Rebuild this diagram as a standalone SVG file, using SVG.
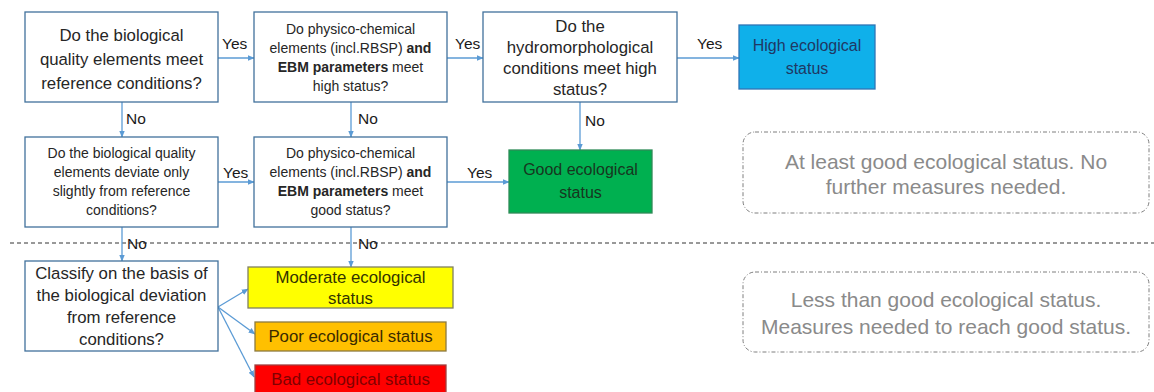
<svg xmlns="http://www.w3.org/2000/svg" width="1154" height="392" viewBox="0 0 1154 392">
<defs>
<marker id="ah" viewBox="0 0 10 10" refX="9" refY="5" markerWidth="7" markerHeight="7" orient="auto" markerUnits="userSpaceOnUse">
<path d="M0,1 L10,5 L0,9 z" fill="#5b9bd5"/>
</marker>
<style>
text{font-family:"Liberation Sans",Arial,sans-serif;fill:#262626;text-anchor:middle}
.q{fill:#fff;stroke:#41719c;stroke-width:1.3}
.t17{font-size:16.8px}
.t16{font-size:16px}
.t14{font-size:14px}
.lbl{font-size:15.5px;text-anchor:start;fill:#1a1a1a}
.c{stroke:#5b9bd5;stroke-width:1.3;fill:none;marker-end:url(#ah)}
.note{fill:none;stroke:#7f7f7f;stroke-width:1;stroke-dasharray:4 2 1 2}
.nt{font-size:21px;fill:#8a8a8a}
</style>
</defs>
<rect width="1154" height="392" fill="#fff"/>
<line x1="10" y1="243" x2="1154" y2="243" stroke="#333" stroke-width="1" stroke-dasharray="4 3"/>
<g id="connectors">
<line class="c" x1="218" y1="58" x2="254" y2="58"/>
<line class="c" x1="447" y1="58" x2="483" y2="58"/>
<line class="c" x1="677" y1="58" x2="739" y2="58"/>
<line class="c" x1="122" y1="102" x2="122" y2="137"/>
<line class="c" x1="351" y1="102" x2="351" y2="137"/>
<line class="c" x1="580" y1="102" x2="580" y2="150"/>
<line class="c" x1="218" y1="182" x2="254" y2="182"/>
<line class="c" x1="447" y1="182" x2="509" y2="182"/>
<line class="c" x1="122" y1="227" x2="122" y2="261"/>
<line class="c" x1="351" y1="227" x2="351" y2="267"/>
<line class="c" x1="218" y1="307" x2="248" y2="289"/>
<line class="c" x1="218" y1="307" x2="255" y2="334"/>
<line class="c" x1="218" y1="307" x2="254" y2="377"/>
<text class="lbl" x="222" y="48.5">Yes</text>
<text class="lbl" x="455" y="48.5">Yes</text>
<text class="lbl" x="697" y="48.5">Yes</text>
<text class="lbl" x="126" y="123.5">No</text>
<text class="lbl" x="358" y="123.5">No</text>
<text class="lbl" x="585" y="125.5">No</text>
<text class="lbl" x="223" y="177.5">Yes</text>
<text class="lbl" x="467" y="177.5">Yes</text>
<text class="lbl" x="127" y="248.5">No</text>
<text class="lbl" x="358" y="248.5">No</text>
</g>
<g id="q1">
<rect class="q" x="25" y="12" width="193" height="90"/>
<text class="t17" x="121.5" y="41">Do the biological</text>
<text class="t17" x="121.5" y="65">quality elements meet</text>
<text class="t17" x="121.5" y="89">reference conditions?</text>
</g>
<g id="q2">
<rect class="q" x="254" y="12" width="193" height="90"/>
<text class="t14" x="350.5" y="33.5">Do physico-chemical</text>
<text class="t14" x="350.5" y="52.5">elements (incl.RBSP) <tspan font-weight="bold">and</tspan></text>
<text class="t14" x="350.5" y="71.5"><tspan font-weight="bold">EBM parameters</tspan> meet</text>
<text class="t14" x="350.5" y="90.5">high status?</text>
</g>
<g id="q3">
<rect class="q" x="483" y="12" width="194" height="90"/>
<text class="t17" x="580" y="31.5">Do the</text>
<text class="t17" x="580" y="52.5">hydromorphological</text>
<text class="t17" x="580" y="73.5">conditions meet high</text>
<text class="t17" x="580" y="94.5">status?</text>
</g>
<g id="high">
<rect x="739" y="25" width="136" height="64" fill="#0fb0ea" stroke="#2e75b6" stroke-width="1.3"/>
<text class="t16" x="807" y="51" style="fill:#1f3864">High ecological</text>
<text class="t16" x="807" y="74" style="fill:#1f3864">status</text>
</g>
<g id="q4">
<rect class="q" x="25" y="137" width="193" height="90"/>
<text class="t14" x="121.5" y="158">Do the biological quality</text>
<text class="t14" x="121.5" y="177">elements deviate only</text>
<text class="t14" x="121.5" y="196">slightly from reference</text>
<text class="t14" x="121.5" y="215">conditions?</text>
</g>
<g id="q5">
<rect class="q" x="254" y="137" width="193" height="90"/>
<text class="t14" x="350.5" y="158">Do physico-chemical</text>
<text class="t14" x="350.5" y="177">elements (incl.RBSP) <tspan font-weight="bold">and</tspan></text>
<text class="t14" x="350.5" y="196"><tspan font-weight="bold">EBM parameters</tspan> meet</text>
<text class="t14" x="350.5" y="215">good status?</text>
</g>
<g id="good">
<rect x="509" y="150" width="143" height="63" fill="#00b050" stroke="#2e8b57" stroke-width="1.3"/>
<text class="t16" x="580.5" y="175" style="fill:#17361f">Good ecological</text>
<text class="t16" x="580.5" y="198" style="fill:#17361f">status</text>
</g>
<g id="note1">
<rect class="note" x="743" y="132" width="406" height="81" rx="12"/>
<text class="nt" x="946" y="169">At least good ecological status. No</text>
<text class="nt" x="946" y="194">further measures needed.</text>
</g>
<g id="q6">
<rect class="q" x="25" y="261" width="193" height="90"/>
<text class="t17" x="121.5" y="279">Classify on the basis of</text>
<text class="t17" x="121.5" y="301">the biological deviation</text>
<text class="t17" x="121.5" y="323">from reference</text>
<text class="t17" x="121.5" y="345">conditions?</text>
</g>
<g id="moderate">
<rect x="248" y="267" width="205" height="41" fill="#ffff00" stroke="#808060" stroke-width="1.3"/>
<text class="t17" x="350.5" y="283" style="fill:#333300">Moderate ecological</text>
<text class="t17" x="350.5" y="304" style="fill:#333300">status</text>
</g>
<g id="poor">
<rect x="255" y="322" width="191" height="29" fill="#ffc000" stroke="#8c7a40" stroke-width="1.3"/>
<text class="t17" x="350.5" y="342" style="fill:#3a2a00">Poor ecological status</text>
</g>
<g id="bad">
<rect x="255" y="365" width="191" height="30" fill="#ff0000" stroke="#a04040" stroke-width="1.3"/>
<text class="t17" x="350.5" y="385" style="fill:#800000">Bad ecological status</text>
</g>
<g id="note2">
<rect class="note" x="743" y="272" width="406" height="80" rx="12"/>
<text class="nt" x="946" y="307">Less than good ecological status.</text>
<text class="nt" x="946" y="334">Measures needed to reach good status.</text>
</g>
</svg>
